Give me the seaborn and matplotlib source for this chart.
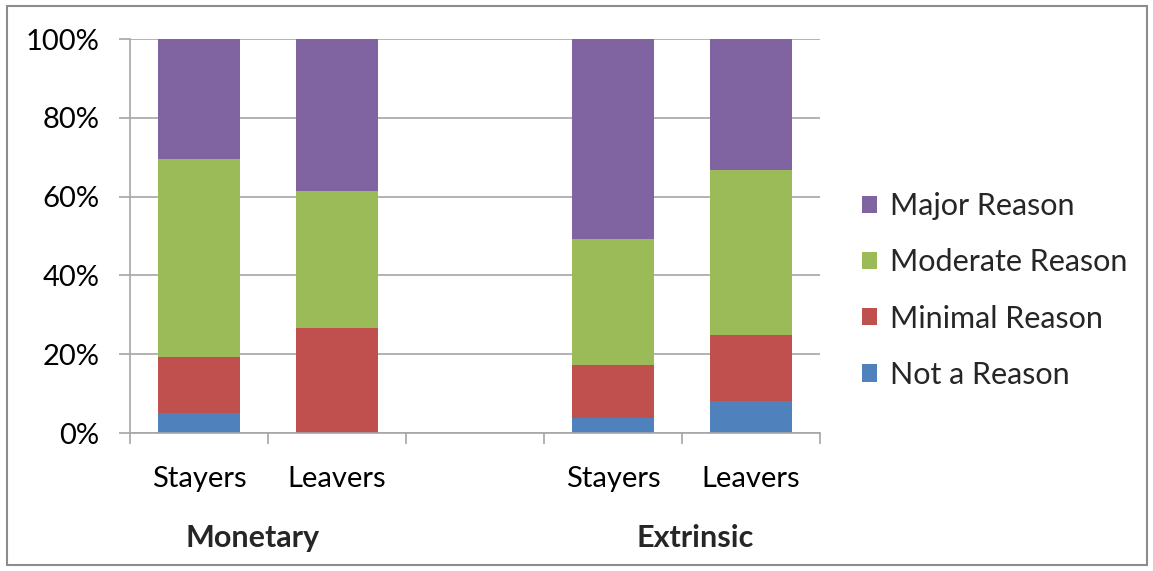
import matplotlib
matplotlib.use("Agg")
import matplotlib.pyplot as plt
import seaborn as sns
import pandas as pd
import numpy as np
from matplotlib.patches import Rectangle

# ---- data ----
categories = ["Monetary Stayers", "Monetary Leavers", "gap", "Extrinsic Stayers", "Extrinsic Leavers"]
tick_labels = ["Stayers", "Leavers", "", "Stayers", "Leavers"]
bar_categories = ["Monetary Stayers", "Monetary Leavers", "Extrinsic Stayers", "Extrinsic Leavers"]
series_names = ["Not a Reason", "Minimal Reason", "Moderate Reason", "Major Reason"]
not_a_reason = [5.1, 0.0, 3.9, 8.1]
minimal_reason = [14.3, 26.7, 13.4, 16.8]
moderate_reason = [50.2, 34.8, 32.0, 41.9]
major_reason = [30.4, 38.5, 50.7, 33.2]
group_labels = ["Monetary", "Extrinsic"]
colors = ["#4F81BD", "#C0504D", "#9BBB59", "#8064A2"]

series_values = [not_a_reason, minimal_reason, moderate_reason, major_reason]

sns.set_theme(style="white")
plt.rcParams["font.family"] = ["Lato", "DejaVu Sans"]
FS = 21
FS_LEG = 22

fig = plt.figure(figsize=(11.53, 5.71), dpi=100)
ax = fig.add_axes([130 / 1153, 1 - 433 / 571, 690 / 1153, 394 / 571])

# cumulative stacks, drawn from the tallest down so each layer overlays
cum = np.cumsum(np.array(series_values), axis=0)
for i in range(len(series_names) - 1, -1, -1):
    df = pd.DataFrame({"cat": bar_categories, "val": cum[i]})
    sns.barplot(data=df, x="cat", y="val", order=categories, color=colors[i],
                width=0.6, saturation=1, ax=ax, errorbar=None, linewidth=0,
                label=series_names[i])

ax.set_xlim(-0.5, 4.5)
ax.set_ylim(0, 100)
ax.set_yticks(np.arange(0, 101, 20))
ax.set_yticklabels([f"{v}%" for v in range(0, 101, 20)])
ax.set_xticks(range(len(categories)))
ax.set_xticklabels(tick_labels)
ax.set_xticks(np.arange(-0.5, 4.6, 1), minor=True)
ax.set_xlabel("")
ax.set_ylabel("")

ax.yaxis.grid(True, color="#A6A6A6", linewidth=1.2)
ax.set_axisbelow(True)
for s in ["top", "right"]:
    ax.spines[s].set_visible(False)
ax.spines["left"].set_color("#A6A6A6")
ax.spines["bottom"].set_color("#A6A6A6")
ax.spines["left"].set_linewidth(1.2)
ax.spines["bottom"].set_linewidth(1.2)

ax.tick_params(axis="y", which="major", left=True, length=8, width=1.2, color="#A6A6A6",
               pad=14, labelsize=FS, labelcolor="#000000")
ax.tick_params(axis="x", which="major", bottom=False, length=0, pad=24, labelsize=FS,
               labelcolor="#000000")
ax.tick_params(axis="x", which="minor", bottom=True, length=8, width=1.2, color="#A6A6A6")

# group labels
fig.text(253 / 1153, 1 - 538 / 571, group_labels[0], ha="center", va="center",
         fontsize=FS + 1, fontweight="bold")
fig.text(695 / 1153, 1 - 538 / 571, group_labels[1], ha="center", va="center",
         fontsize=FS + 1, fontweight="bold")

# legend
handles, labels = ax.get_legend_handles_labels()
ax.legend(handles, labels, loc="center left",
          bbox_to_anchor=(862 / 1153, 1 - 290.5 / 571), bbox_transform=fig.transFigure,
          frameon=False, fontsize=FS_LEG, handlelength=0.5, handleheight=0.5,
          handletextpad=0.42, labelspacing=0.92, borderpad=0, borderaxespad=0)

# outer border
fig.patches.append(Rectangle((7 / 1153, 6 / 571), 1140 / 1153, 559 / 571,
                             transform=fig.transFigure, fill=False,
                             edgecolor="#8C8C8C", linewidth=1.5))

fig.savefig("out.png", dpi=100)
